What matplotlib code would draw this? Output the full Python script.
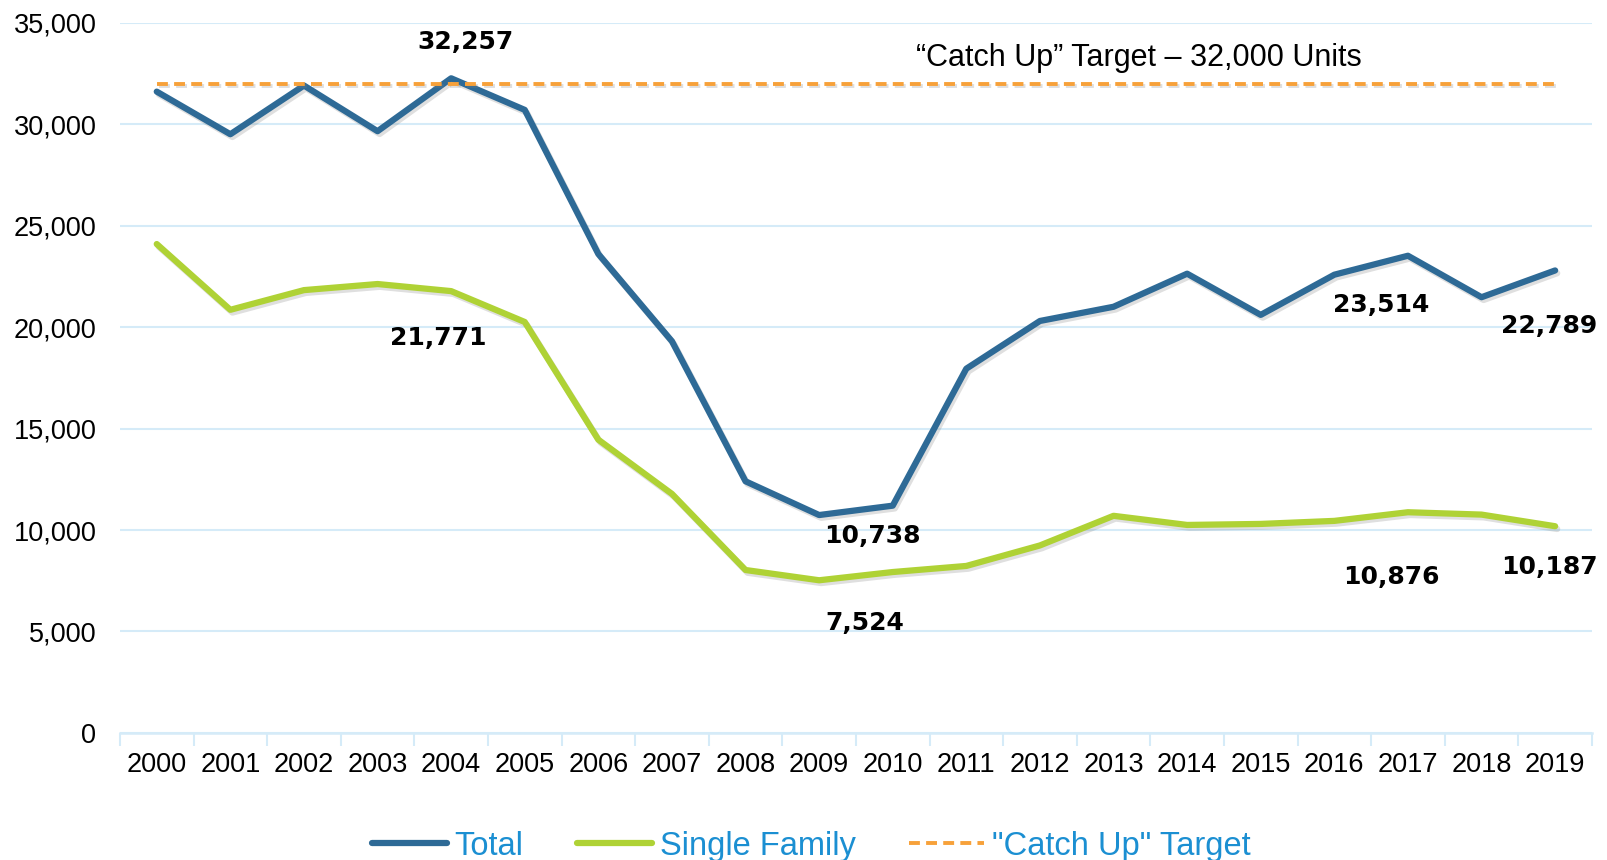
import matplotlib
matplotlib.use("Agg")
from matplotlib import pyplot as plt
from matplotlib import patheffects as pe
import numpy as np

# Data
years = [str(y) for y in range(2000, 2020)]
total = [31600, 29500, 31900, 29650, 32257, 30700, 23600, 19300, 12400, 10738,
         11200, 17950, 20300, 21000, 22630, 20600, 22580, 23514, 21470, 22789]
single_family = [24090, 20850, 21820, 22120, 21771, 20250, 14450, 11780, 8030, 7524,
                 7930, 8230, 9240, 10700, 10250, 10300, 10450, 10876, 10760, 10187]
target = [32000] * len(years)
y_ticks = [0, 5000, 10000, 15000, 20000, 25000, 30000, 35000]

plt.rcParams['font.family'] = ['Liberation Sans', 'DejaVu Sans']

fig = plt.figure(figsize=(16.08, 8.6), dpi=100)
ax = fig.add_axes([0.0746, 0.1477, 0.9154, 0.826])

x = np.arange(len(years))
shadow = [pe.SimpleLineShadow(offset=(1.5, -2), alpha=0.25, shadow_color='gray'), pe.Normal()]

ax.plot(x, total, color='#2e6a96', lw=4.5, solid_capstyle='round', label='Total',
        path_effects=shadow, zorder=4)
ax.plot(x, single_family, color='#afd235', lw=4.5, solid_capstyle='round', label='Single Family',
        path_effects=shadow, zorder=3)
ax.plot(x, target, color='#f7a13a', lw=2.8, ls=(0, (2.8, 1.6)), label='"Catch Up" Target',
        path_effects=shadow, zorder=5)

# data labels
lab_kw = dict(fontsize=18, fontweight='bold', color='black', ha='center', va='center',
              family=['DejaVu Sans'])
ax.text(x[4] + 0.2, 34050, f"{total[4]:,}", **lab_kw)
ax.text(x[4] - 0.17, 19450, f"{single_family[4]:,}", **lab_kw)
ax.text(x[9] + 0.72, 9700, f"{total[9]:,}", **lab_kw)
ax.text(x[9] + 0.62, 5400, f"{single_family[9]:,}", **lab_kw)
ax.text(x[17] - 0.37, 21100, f"{total[17]:,}", **lab_kw)
ax.text(x[17] - 0.22, 7700, f"{single_family[17]:,}", **lab_kw)
ax.text(x[19] - 0.08, 20050, f"{total[19]:,}", **lab_kw)
ax.text(x[19] - 0.08, 8200, f"{single_family[19]:,}", **lab_kw)

ax.text(13.35, 33250, "\u201cCatch Up\u201d Target \u2013 32,000 Units", fontsize=22,
        ha='center', va='center', color='black')

# axes styling
ax.set_xlim(-0.5, len(years) - 0.5)
ax.set_ylim(0, 35000)
ax.set_yticks(y_ticks)
ax.set_yticklabels([f"{v:,}" for v in y_ticks])
ax.yaxis.grid(True, color='#d5ebf8', lw=1.5)
ax.set_axisbelow(True)
ax.tick_params(axis='y', length=0, labelsize=19.5, pad=17)

ax.set_xticks(x)
ax.set_xticklabels(years)
ax.set_xticks(np.arange(-0.5, len(years), 1), minor=True)
ax.tick_params(axis='x', which='major', length=0, labelsize=19.5, pad=14)
ax.tick_params(axis='x', which='minor', length=9, width=1.5, color='#d5ebf8')

for s in ['left', 'right', 'top']:
    ax.spines[s].set_visible(False)
ax.spines['bottom'].set_color('#d5ebf8')
ax.spines['bottom'].set_linewidth(1.8)

leg = fig.legend(loc='center', bbox_to_anchor=(0.5045, 0.016), ncol=3, frameon=False,
                 prop={'size': 23.5},
                 handlelength=2.3, handletextpad=0.22, columnspacing=1.65)
for t in leg.get_texts():
    t.set_color('#1b8fd2')
for h in leg.legend_handles:
    h.set_path_effects([])

fig.savefig('out.png', dpi=100)
